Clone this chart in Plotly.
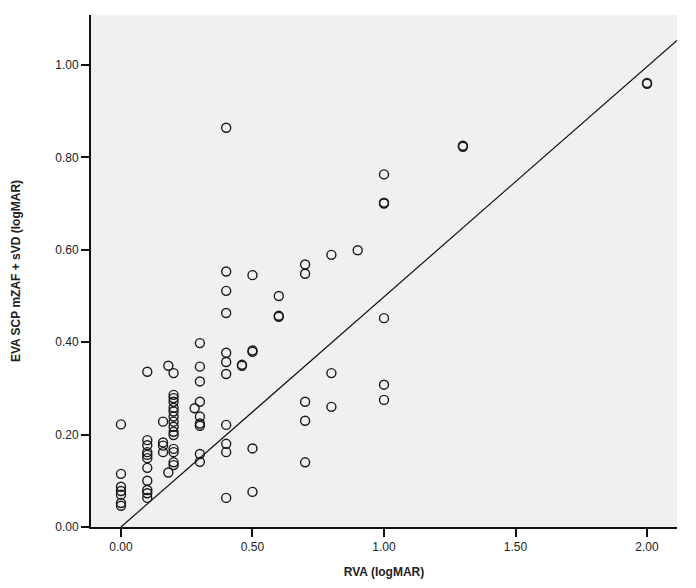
import plotly.graph_objects as go

# RVA (logMAR) values
rva = [
    0.0, 0.0, 0.0, 0.0, 0.0, 0.0, 0.0,
    0.1, 0.1, 0.1, 0.1, 0.1, 0.1, 0.1, 0.1, 0.1, 0.1, 0.1,
    0.16, 0.16, 0.16, 0.16,
    0.18, 0.18,
    0.2, 0.2, 0.2, 0.2, 0.2, 0.2, 0.2, 0.2, 0.2, 0.2, 0.2, 0.2, 0.2, 0.2, 0.2,
    0.28,
    0.3, 0.3, 0.3, 0.3, 0.3, 0.3, 0.3, 0.3, 0.3,
    0.4, 0.4, 0.4, 0.4, 0.4, 0.4, 0.4, 0.4, 0.4, 0.4, 0.4,
    0.46, 0.46,
    0.5, 0.5, 0.5, 0.5, 0.5,
    0.6, 0.6, 0.6,
    0.7, 0.7, 0.7, 0.7, 0.7,
    0.8, 0.8, 0.8,
    0.9,
    1.0, 1.0, 1.0, 1.0, 1.0, 1.0,
    1.3, 1.3,
    2.0, 2.0,
]

# EVA SCP mZAF + sVD (logMAR) values
eva = [
    0.222, 0.115, 0.087, 0.078, 0.07, 0.052, 0.046,
    0.336, 0.188, 0.177, 0.162, 0.156, 0.149, 0.128, 0.1, 0.08, 0.073, 0.063,
    0.228, 0.183, 0.176, 0.162,
    0.349, 0.118,
    0.333, 0.286, 0.279, 0.271, 0.258, 0.25, 0.239, 0.228, 0.217, 0.206, 0.199, 0.169, 0.162, 0.14, 0.134,
    0.257,
    0.398, 0.347, 0.315, 0.271, 0.239, 0.224, 0.219, 0.158, 0.141,
    0.864, 0.553, 0.511, 0.463, 0.377, 0.357, 0.331, 0.221, 0.18, 0.162, 0.063,
    0.349, 0.351,
    0.545, 0.382, 0.379, 0.17, 0.076,
    0.50, 0.455, 0.457,
    0.568, 0.548, 0.271, 0.23, 0.14,
    0.589, 0.333, 0.26,
    0.599,
    0.763, 0.70, 0.702, 0.452, 0.308, 0.275,
    0.825, 0.823,
    0.961, 0.959,
]

# Reference line
line_x = [0.0, 2.114]
line_y = [0.0, 1.053]

x_ticks = [0.0, 0.5, 1.0, 1.5, 2.0]
x_tick_labels = ["0.00", "0.50", "1.00", "1.50", "2.00"]
y_ticks = [0.0, 0.2, 0.4, 0.6, 0.8, 1.0]
y_tick_labels = ["0.00", "0.20", "0.40", "0.60", "0.80", "1.00"]

fig = go.Figure()
fig.add_trace(go.Scatter(
    x=line_x, y=line_y, mode="lines",
    line=dict(color="#111111", width=1.2),
    hoverinfo="skip", showlegend=False,
))
fig.add_trace(go.Scatter(
    x=rva, y=eva, mode="markers",
    marker=dict(symbol="circle-open", size=9, color="#1a1a1a",
                line=dict(width=1.4, color="#1a1a1a")),
    showlegend=False,
))

font_family = "Liberation Sans, Arial, sans-serif"
fig.update_layout(
    width=688, height=580,
    margin=dict(l=83, r=19, t=7, b=61),
    paper_bgcolor="white",
    plot_bgcolor="#f0f0f1",
    font=dict(family=font_family, size=12, color="#222222"),
    xaxis=dict(
        range=[-0.114, 2.114],
        tickvals=x_ticks, ticktext=x_tick_labels,
        showgrid=False, zeroline=False,
        showline=True, linecolor="#111111", linewidth=2,
        ticks="outside", ticklen=8, tickwidth=2, tickcolor="#111111",
        title=dict(text="<b>RVA (logMAR)</b>", font=dict(size=12, family=font_family), standoff=14),
        tickfont=dict(size=12),
    ),
    yaxis=dict(
        range=[0, 1.108],
        tickvals=y_ticks, ticktext=y_tick_labels,
        showgrid=False, zeroline=False,
        showline=True, linecolor="#111111", linewidth=2,
        ticks="outside", ticklen=8, tickwidth=2, tickcolor="#111111",
        title=dict(text="<b>EVA SCP mZAF + sVD (logMAR)</b>", font=dict(size=12, family=font_family), standoff=32),
        tickfont=dict(size=12),
    ),
)

fig.write_html("out.html")
